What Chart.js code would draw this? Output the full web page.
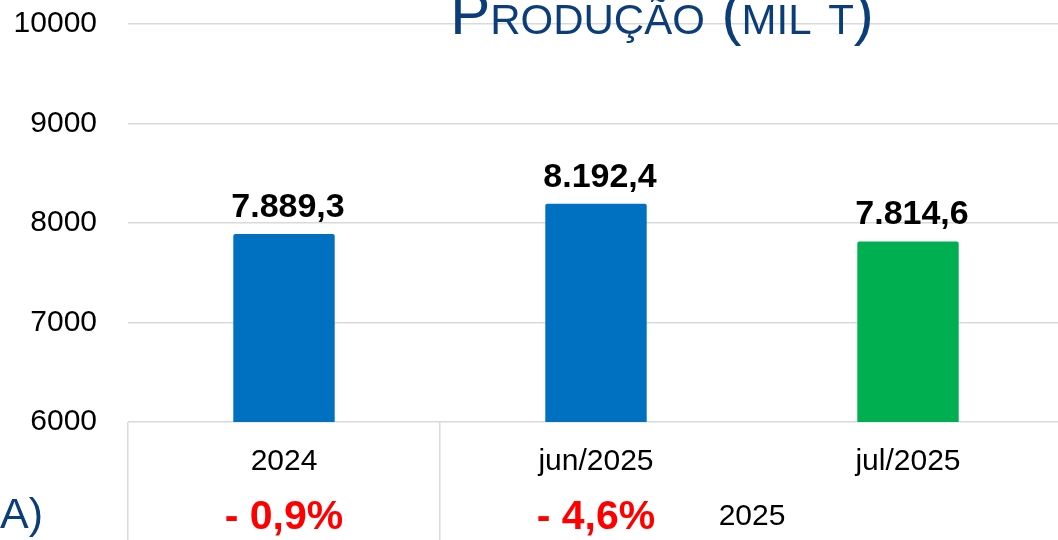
<!DOCTYPE html>
<html lang="pt-BR">
<head>
<meta charset="utf-8">
<title>Produção (mil t)</title>
<script src="https://cdn.jsdelivr.net/npm/chart.js@4/dist/chart.umd.min.js"></script>
<style>
  html, body { margin: 0; padding: 0; background: #fff; overflow: hidden; }
  #grafico { display: block; }
</style>
</head>
<body>
<canvas id="grafico" width="1070" height="540"></canvas>
<script>
// dados
const categorias = ['2024', 'jun/2025', 'jul/2025'];
const producao = [7889.3, 8192.4, 7814.6];
const coresBarras = ['#0070C0', '#0070C0', '#00B050'];
const ticksY = [6000, 7000, 8000, 9000, 10000];
const grupos = [{ texto: '2025', de: 1, ate: 2 }];
// variação do último mês contra estas categorias
const comparados = [0, 1];

const FONTE = '"Liberation Sans", Arial, sans-serif';
const AZUL_TITULO = '#0a3d7a';
const CINZA = '#d9d9d9';

function formataNumero(v) {
  const [inteiro, dec] = v.toFixed(1).split('.');
  return inteiro.replace(/\B(?=(\d{3})+(?!\d))/g, '.') + ',' + dec;
}

function formataVariacao(v) {
  return (v < 0 ? '- ' : '+ ') + Math.abs(v).toFixed(1).replace('.', ',') + '%';
}

// versalete feito à mão: minúsculas viram maiúsculas menores
function desenhaVersalete(ctx, texto, xCentro, yBase, tamanho) {
  const menor = Math.round(tamanho * 0.7);
  const partes = [...texto].map(c => ({
    c: c.toUpperCase(),
    t: c !== c.toUpperCase() ? menor : tamanho
  }));
  let largura = 0;
  partes.forEach(p => {
    ctx.font = p.t + 'px ' + FONTE;
    p.w = ctx.measureText(p.c).width;
    largura += p.w;
  });
  let x = xCentro - largura / 2;
  ctx.textAlign = 'left';
  ctx.textBaseline = 'alphabetic';
  partes.forEach(p => {
    ctx.font = p.t + 'px ' + FONTE;
    ctx.fillText(p.c, x, yBase);
    x += p.w;
  });
}

const textos = {
  id: 'textos',
  afterDatasetsDraw(chart) {
    const ctx = chart.ctx;
    const escalaX = chart.scales.x;
    const meta = chart.getDatasetMeta(0);
    ctx.save();

    // valores em cima das barras
    ctx.fillStyle = '#000';
    ctx.font = 'bold 34px ' + FONTE;
    ctx.textAlign = 'center';
    ctx.textBaseline = 'alphabetic';
    meta.data.forEach((barra, i) => {
      ctx.fillText(formataNumero(producao[i]), barra.x + 4, barra.y - 17);
    });

    // rótulo do grupo (segundo nível do eixo)
    ctx.font = '30px ' + FONTE;
    grupos.forEach(g => {
      const x = (escalaX.getPixelForValue(g.de) + escalaX.getPixelForValue(g.ate)) / 2;
      ctx.fillText(g.texto, x, 525);
    });

    // variações em vermelho
    const ultimo = producao[producao.length - 1];
    ctx.fillStyle = '#FF0000';
    ctx.font = 'bold 41px ' + FONTE;
    comparados.forEach(i => {
      const v = (ultimo / producao[i] - 1) * 100;
      ctx.fillText(formataVariacao(v), escalaX.getPixelForValue(i), 529);
    });

    // título
    ctx.fillStyle = AZUL_TITULO;
    desenhaVersalete(ctx, 'Produção (mil t)', 662, 34, 60);

    ctx.font = '43px ' + FONTE;
    ctx.textAlign = 'left';
    ctx.fillText('A)', 0, 528);

    ctx.restore();
  }
};

new Chart(document.getElementById('grafico'), {
  type: 'bar',
  data: {
    labels: categorias,
    datasets: [{
      data: producao,
      backgroundColor: coresBarras,
      borderWidth: 0,
      borderRadius: 2,
      borderSkipped: 'bottom',
      categoryPercentage: 1,
      barPercentage: 0.325
    }]
  },
  options: {
    responsive: false,
    animation: false,
    events: [],
    layout: { padding: { top: 24, right: 6, left: 0, bottom: 0 } },
    plugins: {
      legend: { display: false },
      tooltip: { enabled: false },
      title: { display: false }
    },
    scales: {
      x: {
        offset: true,
        border: { display: false },
        grid: {
          offset: true,
          drawOnChartArea: false,
          drawTicks: true,
          tickLength: 118,
          lineWidth: 1.5,
          // sem divisória entre jun e jul (mesmo grupo)
          color: c => (c.index === 2 ? 'rgba(0,0,0,0)' : CINZA)
        },
        ticks: {
          color: '#000',
          font: { family: FONTE, size: 30 },
          padding: -96,
          maxRotation: 0,
          autoSkip: false
        },
        afterFit(escala) {
          escala.height = 118;
          escala.paddingLeft = 0;
          escala.paddingRight = 0;
        }
      },
      y: {
        min: ticksY[0],
        max: ticksY[ticksY.length - 1],
        border: { display: false },
        grid: { color: CINZA, lineWidth: 1.5, drawTicks: false },
        ticks: {
          stepSize: ticksY[1] - ticksY[0],
          color: '#000',
          font: { family: FONTE, size: 30 },
          padding: 31,
          callback: v => String(v)
        },
        afterFit(escala) {
          escala.width = 128;
          escala.paddingTop = 0;
          escala.paddingBottom = 0;
        }
      }
    }
  },
  plugins: [textos]
});
</script>
</body>
</html>
